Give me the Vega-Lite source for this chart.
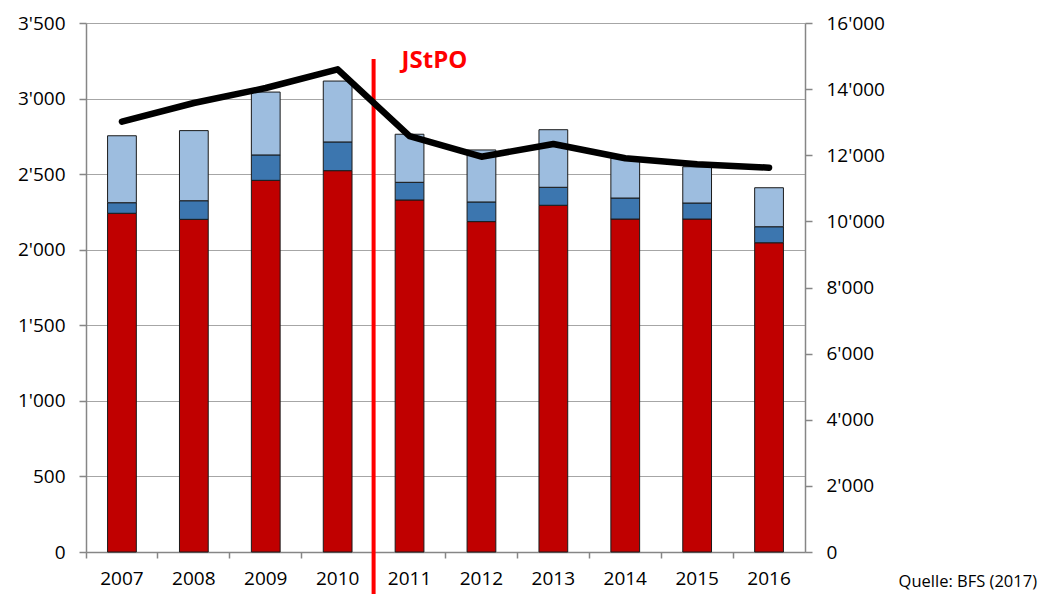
{
  "$schema": "https://vega.github.io/schema/vega-lite/v6.json",
  "width": 719,
  "height": 529,
  "autosize": "none",
  "padding": {"left": 86, "top": 23, "right": 236, "bottom": 42},
  "background": "white",
  "config": {
    "view": {"stroke": null},
    "font": "Open Sans",
    "axis": {"labelFont": "Open Sans", "labelFontSize": 19, "labelColor": "#000000", "domainColor": "#868686", "tickColor": "#868686", "domainWidth": 1.5, "tickWidth": 1.5, "tickSize": 7, "gridColor": "#A6A6A6", "gridWidth": 1}
  },
  "title": {
    "text": "Quelle: BFS (2017)",
    "orient": "bottom",
    "anchor": "end",
    "frame": "group",
    "font": "Open Sans",
    "fontSize": 16.5,
    "fontWeight": "normal",
    "color": "#000000",
    "dx": 232,
    "offset": -22
  },
  "datasets": {
    "bars": [
      {"Jahr": "2007", "Kategorie": "Kategorie 1", "Wert": 2241},
      {"Jahr": "2007", "Kategorie": "Kategorie 2", "Wert": 70},
      {"Jahr": "2007", "Kategorie": "Kategorie 3", "Wert": 443},
      {"Jahr": "2008", "Kategorie": "Kategorie 1", "Wert": 2201},
      {"Jahr": "2008", "Kategorie": "Kategorie 2", "Wert": 123},
      {"Jahr": "2008", "Kategorie": "Kategorie 3", "Wert": 464},
      {"Jahr": "2009", "Kategorie": "Kategorie 1", "Wert": 2459},
      {"Jahr": "2009", "Kategorie": "Kategorie 2", "Wert": 168},
      {"Jahr": "2009", "Kategorie": "Kategorie 3", "Wert": 416},
      {"Jahr": "2010", "Kategorie": "Kategorie 1", "Wert": 2523},
      {"Jahr": "2010", "Kategorie": "Kategorie 2", "Wert": 190},
      {"Jahr": "2010", "Kategorie": "Kategorie 3", "Wert": 403},
      {"Jahr": "2011", "Kategorie": "Kategorie 1", "Wert": 2329},
      {"Jahr": "2011", "Kategorie": "Kategorie 2", "Wert": 117},
      {"Jahr": "2011", "Kategorie": "Kategorie 3", "Wert": 318},
      {"Jahr": "2012", "Kategorie": "Kategorie 1", "Wert": 2186},
      {"Jahr": "2012", "Kategorie": "Kategorie 2", "Wert": 130},
      {"Jahr": "2012", "Kategorie": "Kategorie 3", "Wert": 344},
      {"Jahr": "2013", "Kategorie": "Kategorie 1", "Wert": 2294},
      {"Jahr": "2013", "Kategorie": "Kategorie 2", "Wert": 119},
      {"Jahr": "2013", "Kategorie": "Kategorie 3", "Wert": 381},
      {"Jahr": "2014", "Kategorie": "Kategorie 1", "Wert": 2203},
      {"Jahr": "2014", "Kategorie": "Kategorie 2", "Wert": 139},
      {"Jahr": "2014", "Kategorie": "Kategorie 3", "Wert": 263},
      {"Jahr": "2015", "Kategorie": "Kategorie 1", "Wert": 2203},
      {"Jahr": "2015", "Kategorie": "Kategorie 2", "Wert": 106},
      {"Jahr": "2015", "Kategorie": "Kategorie 3", "Wert": 240},
      {"Jahr": "2016", "Kategorie": "Kategorie 1", "Wert": 2046},
      {"Jahr": "2016", "Kategorie": "Kategorie 2", "Wert": 106},
      {"Jahr": "2016", "Kategorie": "Kategorie 3", "Wert": 258}
    ],
    "linie": [
      {"Jahr": "2007", "Total": 13015},
      {"Jahr": "2008", "Total": 13580},
      {"Jahr": "2009", "Total": 14034},
      {"Jahr": "2010", "Total": 14600},
      {"Jahr": "2011", "Total": 12582},
      {"Jahr": "2012", "Total": 11956},
      {"Jahr": "2013", "Total": 12340},
      {"Jahr": "2014", "Total": 11908},
      {"Jahr": "2015", "Total": 11726},
      {"Jahr": "2016", "Total": 11624}
    ]
  },
  "layer": [
    {
      "layer": [
        {
          "data": {"name": "bars"},
          "mark": {"type": "bar", "width": {"band": 0.4}, "stroke": "#1a1a1a", "strokeWidth": 1},
          "encoding": {
            "x": {
              "field": "Jahr", "type": "ordinal", "title": null,
              "scale": {"paddingInner": 0, "paddingOuter": 0},
              "axis": {"bandPosition": 0, "labelAngle": 0, "labelPadding": 11, "tickSize": 6, "grid": false}
            },
            "y": {
              "field": "Wert", "type": "quantitative", "stack": "zero", "title": null,
              "scale": {"domain": [0, 3500], "nice": false},
              "axis": {"values": [0, 500, 1000, 1500, 2000, 2500, 3000, 3500], "grid": true, "labelPadding": 14, "labelExpr": "replace(format(datum.value, ','), ',', \"'\")"}
            },
            "color": {
              "field": "Kategorie", "type": "nominal", "legend": null,
              "scale": {"domain": ["Kategorie 1", "Kategorie 2", "Kategorie 3"], "range": ["#C00000", "#3C76AF", "#9DBDDF"]}
            },
            "order": {"field": "Kategorie", "sort": "ascending"}
          }
        },
        {
          "data": {"values": [{}]},
          "mark": {"type": "rule", "color": "#FF0000", "strokeWidth": 4},
          "encoding": {
            "x": {"datum": "2011", "type": "ordinal", "bandPosition": 0},
            "y": {"datum": 3262, "type": "quantitative"},
            "y2": {"datum": -280}
          }
        },
        {
          "data": {"values": [{}]},
          "mark": {"type": "text", "color": "#FF0000", "fontSize": 24, "fontWeight": "bold", "font": "Open Sans", "align": "left", "baseline": "alphabetic", "dx": 28},
          "encoding": {
            "x": {"datum": "2011", "type": "ordinal", "bandPosition": 0},
            "y": {"datum": 3204, "type": "quantitative"},
            "text": {"value": "JStPO"}
          }
        }
      ]
    },
    {
      "data": {"name": "linie"},
      "mark": {"type": "line", "color": "#000000", "strokeWidth": 6.5, "strokeCap": "round", "strokeJoin": "round"},
      "encoding": {
        "x": {"field": "Jahr", "type": "ordinal"},
        "y": {
          "field": "Total", "type": "quantitative", "title": null,
          "scale": {"domain": [0, 16000], "nice": false},
          "axis": {"orient": "right", "values": [0, 2000, 4000, 6000, 8000, 10000, 12000, 14000, 16000], "grid": false, "labelPadding": 14, "labelExpr": "replace(format(datum.value, ','), ',', \"'\")"}
        }
      }
    }
  ],
  "resolve": {"scale": {"y": "independent"}}
}
